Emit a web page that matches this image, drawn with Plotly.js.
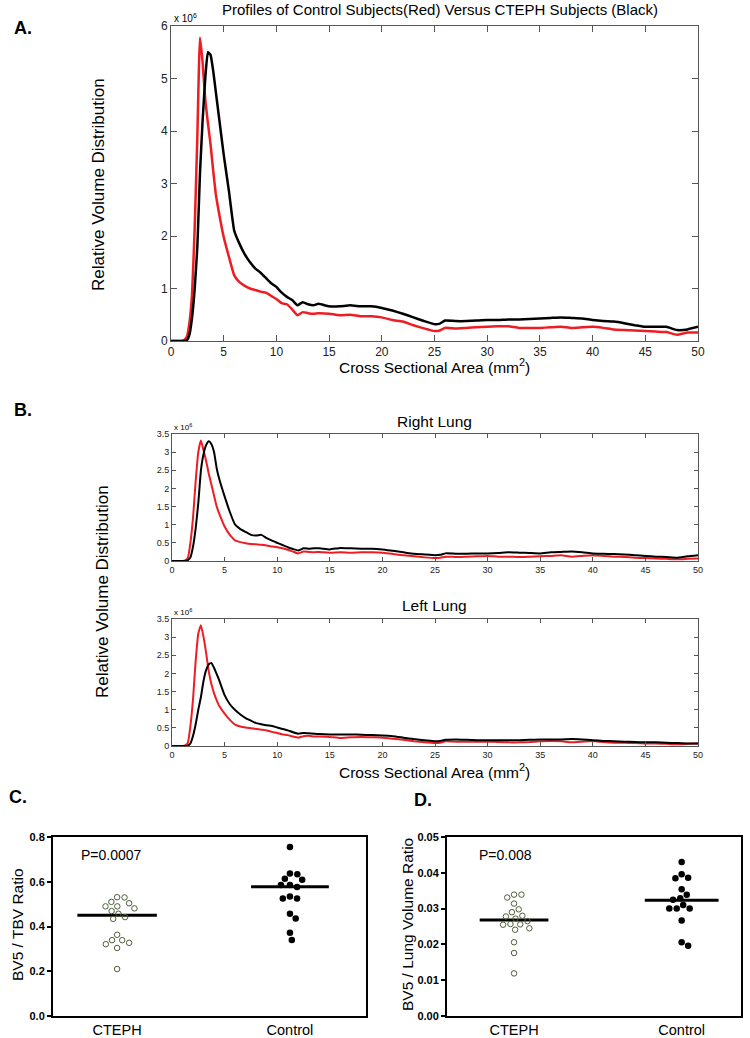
<!DOCTYPE html>
<html>
<head>
<meta charset="utf-8">
<script src="https://cdn.plot.ly/plotly-3.0.1.min.js"></script>
<style>html,body{margin:0;padding:0;background:#fff;}</style>
</head>
<body>
<div id="chart" style="width:750px;height:1038px;"></div>
<script>
// ---------- Data (curve values in units of 10^6) ----------
const area = [0,0.5,1,1.25,1.5,1.75,
  2,2.25,2.5,2.75,3,3.25,3.5,3.75,4,4.25,4.5,
  5,5.5,6,6.5,7,7.5,8,8.5,9,9.5,10,10.5,11,11.5,12,12.5,13,13.5,14,
  15,16,17,18,19,20,21,22,23,24,25,
  25.5,
  26,27,28,29,30,31,32,33,34,35,36,37,38,39,40,41,42,43,44,45,46,47,48,49,50];

const wholeCTEPH = [0,0,0,0,0.01,0.12,
  0.45,1.0,1.8,3.2,4.2,5.0,5.5,5.45,5.15,4.75,4.35,
  3.55,2.85,2.1,1.85,1.65,1.5,1.38,1.3,1.2,1.1,1.03,0.92,0.84,0.78,0.68,0.74,0.70,0.68,0.71,
  0.66,0.66,0.68,0.66,0.66,0.63,0.58,0.52,0.45,0.38,0.32,
  0.33,
  0.39,0.38,0.38,0.39,0.40,0.40,0.41,0.41,0.42,0.43,0.44,0.45,0.44,0.43,0.40,0.38,0.37,0.34,0.30,0.27,0.27,0.27,0.21,0.22,0.27];

const wholeControl = [0,0,0,0.02,0.08,0.35,
  0.9,2.17,3.9,5.78,5.3,4.6,4.15,3.75,3.25,2.8,2.5,
  1.98,1.6,1.25,1.12,1.05,1.0,0.97,0.94,0.92,0.86,0.80,0.72,0.70,0.60,0.49,0.55,0.53,0.52,0.53,
  0.52,0.49,0.50,0.47,0.47,0.45,0.40,0.37,0.30,0.24,0.19,
  0.20,
  0.25,0.24,0.25,0.26,0.27,0.28,0.28,0.25,0.25,0.25,0.26,0.27,0.25,0.26,0.27,0.25,0.22,0.21,0.20,0.19,0.18,0.17,0.12,0.16,0.16];

const rightCTEPH = [0,0,0,0,0.02,0.1,
  0.4,0.9,1.6,2.5,2.95,3.2,3.3,3.22,3.0,2.55,2.25,
  1.78,1.35,1.0,0.88,0.80,0.72,0.70,0.72,0.63,0.56,0.50,0.44,0.38,0.33,0.29,0.35,0.34,0.35,0.35,
  0.32,0.36,0.35,0.34,0.34,0.32,0.28,0.24,0.20,0.18,0.16,
  0.17,
  0.21,0.20,0.20,0.21,0.21,0.22,0.24,0.23,0.22,0.21,0.24,0.25,0.26,0.24,0.21,0.20,0.19,0.18,0.16,0.14,0.12,0.11,0.09,0.13,0.16];

const rightControl = [0,0,0,0.02,0.08,0.5,
  1.2,2.2,3.0,3.32,3.05,2.75,2.4,2.1,1.8,1.5,1.3,
  0.95,0.72,0.57,0.52,0.49,0.47,0.46,0.45,0.43,0.40,0.38,0.35,0.31,0.26,0.21,0.26,0.25,0.24,0.25,
  0.23,0.24,0.23,0.24,0.24,0.23,0.19,0.16,0.13,0.10,0.08,
  0.09,
  0.12,0.11,0.12,0.13,0.14,0.12,0.12,0.11,0.12,0.13,0.14,0.16,0.12,0.14,0.16,0.14,0.12,0.11,0.09,0.08,0.07,0.06,0.05,0.06,0.07];

const leftCTEPH = [0,0,0,0,0.01,0.07,
  0.28,0.6,1.0,1.35,1.8,2.1,2.25,2.29,2.15,1.98,1.8,
  1.4,1.15,0.99,0.87,0.77,0.70,0.63,0.60,0.57,0.55,0.51,0.47,0.43,0.38,0.34,0.36,0.35,0.34,0.33,
  0.32,0.32,0.32,0.31,0.30,0.29,0.27,0.23,0.19,0.16,0.13,
  0.14,
  0.17,0.18,0.17,0.16,0.16,0.16,0.16,0.16,0.17,0.18,0.18,0.18,0.19,0.18,0.16,0.14,0.13,0.12,0.11,0.10,0.10,0.09,0.08,0.07,0.07];

const leftControl = [0,0,0,0.02,0.08,0.55,
  1.3,2.35,3.1,3.33,3.0,2.55,2.05,1.7,1.45,1.26,1.1,
  0.89,0.72,0.59,0.54,0.51,0.49,0.47,0.45,0.43,0.39,0.36,0.32,0.30,0.26,0.23,0.27,0.28,0.26,0.26,
  0.25,0.22,0.24,0.25,0.24,0.23,0.20,0.17,0.13,0.10,0.08,
  0.09,
  0.13,0.12,0.12,0.12,0.12,0.11,0.10,0.10,0.11,0.13,0.14,0.13,0.10,0.12,0.14,0.11,0.09,0.09,0.08,0.07,0.07,0.06,0.05,0.06,0.07];

const groups = ['CTEPH','Control'];

const tbvCTEPH = [0.510,0.531,0.530,0.490,0.481,0.490,0.504,0.469,0.442,0.434,0.457,0.363,0.339,0.339,0.321,0.327,0.304,0.210];
const tbvControl = [0.755,0.637,0.634,0.613,0.609,0.585,0.576,0.585,0.534,0.525,0.525,0.457,0.436,0.372,0.340];
const tbvMeans = [0.450,0.578];
const tbvP = 'P=0.0007';

const lungCTEPH = [0.0339,0.0339,0.0331,0.0314,0.0298,0.0290,0.0278,0.0280,0.0272,0.0265,0.0256,0.0255,0.0257,0.0245,0.0241,0.0206,0.0176,0.0119];
const lungControl = [0.0430,0.0386,0.0385,0.0396,0.0354,0.0339,0.0329,0.0325,0.0300,0.0300,0.0300,0.0310,0.0267,0.0206,0.0196];
const lungMeans = [0.0268,0.0323];
const lungP = 'P=0.008';

// ---------- Layout geometry ----------
const W = 750, H = 1038;
const RED = '#ee1d23', BLACK = '#000000';
const FONT = 'Liberation Sans, Arial, sans-serif';

const dom = {
  A:  {x:[171/W, 698/W], y:[1-341/H, 1-26/H]},
  R:  {x:[172/W, 698/W], y:[1-561/H, 1-434/H]},
  L:  {x:[172/W, 698/W], y:[1-746/H, 1-619/H]},
  C:  {x:[53/W, 366/W],  y:[1-1016/H, 1-837/H]},
  D:  {x:[447/W, 741/W], y:[1-1016/H, 1-837/H]}
};
const rangeC = {x:[0.629, 2.44], y:[0, 0.8]};
const rangeD = {x:[0.60, 2.354], y:[0, 0.05]};

// simple beeswarm: place points as near the group centre as possible without overlap
function swarm(vals, center, dm, rg, diam){
  const pxX = (dm.x[1]-dm.x[0])*W/(rg.x[1]-rg.x[0]);
  const pxY = (dm.y[1]-dm.y[0])*H/(rg.y[1]-rg.y[0]);
  const order = vals.map((v,i)=>i).sort((a,b)=>vals[b]-vals[a]);
  const placed = []; const xs = new Array(vals.length);
  order.forEach(i=>{
    const py = vals[i]*pxY;
    const cands = [0];
    placed.forEach(p=>{
      const dy = Math.abs(p.py-py);
      if (dy < diam){ const dx = Math.sqrt(diam*diam-dy*dy); cands.push(p.px+dx, p.px-dx); }
    });
    cands.sort((a,b)=>Math.abs(a)-Math.abs(b));
    let best = 0;
    for (const c of cands){
      if (placed.every(p=>Math.hypot(p.px-c, p.py-py) >= diam-1e-6)){ best = c; break; }
    }
    placed.push({px:best, py:py});
    xs[i] = center + best/pxX;
  });
  return xs;
}

function curve(y, color, xa, ya, w){
  return {x: area, y: y, type:'scatter', mode:'lines', xaxis:xa, yaxis:ya,
          line:{color:color, width:w, shape:'spline', smoothing:0.4}, hoverinfo:'skip'};
}

const openMarker = {symbol:'circle-open', size:5.5, color:'#4e5f38', line:{width:1, color:'#4e5f38'}};
const fillMarker = {symbol:'circle', size:6.5, color:'#000'};

function meanLine(i, m, half, xa, ya){
  return {x:[i+1-half, i+1+half], y:[m, m], type:'scatter', mode:'lines',
          xaxis:xa, yaxis:ya, line:{color:'#000', width:3}, hoverinfo:'skip'};
}

const traces = [
  curve(wholeControl, RED, 'x', 'y', 2.5),
  curve(wholeCTEPH, BLACK, 'x', 'y', 2.5),
  curve(rightControl, RED, 'x2', 'y2', 2),
  curve(rightCTEPH, BLACK, 'x2', 'y2', 2),
  curve(leftControl, RED, 'x3', 'y3', 2),
  curve(leftCTEPH, BLACK, 'x3', 'y3', 2),
  meanLine(0, tbvMeans[0], 0.23, 'x4', 'y4'),
  meanLine(1, tbvMeans[1], 0.225, 'x4', 'y4'),
  {x: swarm(tbvCTEPH, 1, dom.C, rangeC, 7.4), y: tbvCTEPH, type:'scatter', mode:'markers', xaxis:'x4', yaxis:'y4', marker:openMarker},
  {x: swarm(tbvControl, 2, dom.C, rangeC, 7.4), y: tbvControl, type:'scatter', mode:'markers', xaxis:'x4', yaxis:'y4', marker:fillMarker},
  meanLine(0, lungMeans[0], 0.205, 'x5', 'y5'),
  meanLine(1, lungMeans[1], 0.22, 'x5', 'y5'),
  {x: swarm(lungCTEPH, 1, dom.D, rangeD, 7.4), y: lungCTEPH, type:'scatter', mode:'markers', xaxis:'x5', yaxis:'y5', marker:openMarker},
  {x: swarm(lungControl, 2, dom.D, rangeD, 7.4), y: lungControl, type:'scatter', mode:'markers', xaxis:'x5', yaxis:'y5', marker:fillMarker}
];

function matX(d, anchor, fs, tl){
  return {domain:d, anchor:anchor, range:[0,50], tick0:0, dtick:5, ticks:'inside', ticklen:tl,
    tickcolor:'#555', mirror:'ticks', showline:true, linecolor:'#555', linewidth:1,
    showgrid:false, zeroline:false, tickfont:{family:FONT, size:fs, color:'#222'}, fixedrange:true};
}
function matY(d, anchor, rg, dt, fs, tl){
  return {domain:d, anchor:anchor, range:rg, tick0:0, dtick:dt, ticks:'inside', ticklen:tl,
    tickcolor:'#555', mirror:'ticks', showline:true, linecolor:'#555', linewidth:1,
    showgrid:false, zeroline:false, tickfont:{family:FONT, size:fs, color:'#222'}, fixedrange:true};
}
function gpX(d, anchor, rg){
  return {domain:d, anchor:anchor, range:rg, tickvals:[1,2], ticktext:groups, ticks:'',
    showline:true, linecolor:'#000', linewidth:2, mirror:true, showgrid:false, zeroline:false,
    tickfont:{family:FONT, size:14.5, color:'#000'}, fixedrange:true};
}
function gpY(d, anchor, rg, dt, fmt){
  return {domain:d, anchor:anchor, range:rg, tick0:0, dtick:dt, tickformat:fmt, ticks:'outside',
    ticklen:4, tickwidth:2, tickcolor:'#000', showline:true, linecolor:'#000', linewidth:2, mirror:true,
    showgrid:false, zeroline:false, tickfont:{family:FONT, size:11, color:'#000', weight:'bold'}, fixedrange:true};
}

function txt(text, x, y, size, opts){
  return Object.assign({text:text, xref:'paper', yref:'paper', x:x/W, y:1-y/H, showarrow:false,
    xanchor:'center', yanchor:'middle', font:{family:FONT, size:size, color:'#000'}}, opts||{});
}

const annotations = [
  txt('<b>A.</b>', 23, 28, 18),
  txt('<b>B.</b>', 23, 410, 18),
  txt('<b>C.</b>', 18, 797, 18),
  txt('<b>D.</b>', 423, 800, 18),
  txt('x 10<sup>6</sup>', 172, 18, 10, {xanchor:'left'}),
  txt('x 10<sup>6</sup>', 172, 427, 8, {xanchor:'left'}),
  txt('x 10<sup>6</sup>', 172, 612, 8, {xanchor:'left'}),
  txt('Relative Volume Distribution', 98, 184, 17, {textangle:-90}),
  txt('Cross Sectional Area (mm<sup>2</sup>)', 435, 366, 15.5),
  txt('Right Lung', 435, 421, 15.5),
  txt('Left Lung', 435, 605, 15.5),
  txt('Relative Volume Distribution', 102, 592, 17, {textangle:-90}),
  txt('Cross Sectional Area (mm<sup>2</sup>)', 435, 771, 15.5),
  txt(tbvP, 79, 855, 14, {xanchor:'left'}),
  txt(lungP, 477, 855, 14, {xanchor:'left'}),
  txt('BV5 / TBV Ratio', 17, 925, 15.5, {textangle:-90}),
  txt('BV5 / Lung Volume Ratio', 407, 925, 15.5, {textangle:-90})
];

const layout = {
  width: W, height: H,
  margin: {l:0, r:0, t:0, b:0},
  paper_bgcolor:'#fff', plot_bgcolor:'#fff',
  showlegend:false,
  title: {text:'Profiles of Control Subjects(Red) Versus CTEPH Subjects (Black)',
          x:440/W, xanchor:'center', y:1-10/H, yanchor:'middle', xref:'paper', yref:'paper',
          font:{family:FONT, size:15, color:'#000'}},
  xaxis:  matX(dom.A.x, 'y', 12, 6),
  yaxis:  matY(dom.A.y, 'x', [0,6], 1, 12, 6),
  xaxis2: matX(dom.R.x, 'y2', 9, 4),
  yaxis2: matY(dom.R.y, 'x2', [0,3.5], 0.5, 9, 4),
  xaxis3: matX(dom.L.x, 'y3', 9, 4),
  yaxis3: matY(dom.L.y, 'x3', [0,3.5], 0.5, 9, 4),
  xaxis4: gpX(dom.C.x, 'y4', rangeC.x),
  yaxis4: gpY(dom.C.y, 'x4', rangeC.y, 0.2, '.1f'),
  xaxis5: gpX(dom.D.x, 'y5', rangeD.x),
  yaxis5: gpY(dom.D.y, 'x5', rangeD.y, 0.01, '.2f'),
  annotations: annotations
};

Plotly.newPlot('chart', traces, layout, {displayModeBar:false, staticPlot:true});
</script>
</body>
</html>
